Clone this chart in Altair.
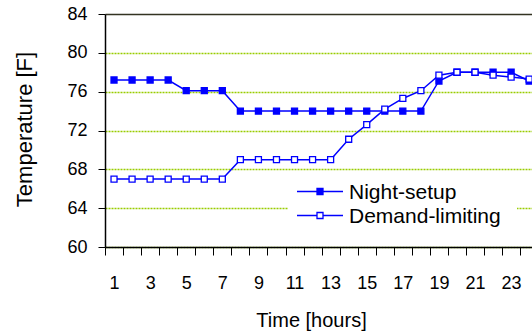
import altair as alt
import pandas as pd

# Hourly zone temperature for two control strategies
hours = list(range(1, 25))
night_setup = [77.2, 77.2, 77.2, 77.2, 76.1, 76.1, 76.1, 74.0, 74.0, 74.0, 74.0, 74.0,
               74.0, 74.0, 74.0, 74.0, 74.0, 74.0, 77.1, 78.0, 78.0, 78.0, 78.0, 77.1]
demand_limiting = [67.0, 67.0, 67.0, 67.0, 67.0, 67.0, 67.0, 69.0, 69.0, 69.0, 69.0, 69.0,
                   69.0, 71.1, 72.6, 74.2, 75.3, 76.1, 77.7, 78.0, 78.0, 77.7, 77.5, 77.3]
series_names = ["Night-setup", "Demand-limiting"]
y_ticks = [60, 64, 68, 72, 76, 80, 84]

df = pd.DataFrame({
    "hour": hours + hours,
    "temp": night_setup + demand_limiting,
    "series": [series_names[0]] * len(hours) + [series_names[1]] * len(hours),
})

BLUE = "#0000ff"
GRID = "#99cc00"
FONT = "Liberation Sans"
PX_PER_HOUR = 18.05
PLOT_W = 427
PLOT_H = 233

x_enc = alt.X(
    "hour:Q",
    scale=alt.Scale(domain=[0.5, 0.5 + PLOT_W / PX_PER_HOUR], nice=False, zero=False),
    axis=alt.Axis(
        values=hours,
        tickOffset=-PX_PER_HOUR / 2,
        labelOffset=PX_PER_HOUR / 2,
        labelExpr="datum.value % 2 == 1 ? datum.label : ''",
        grid=False,
        tickSize=8,
        tickColor="black",
        tickWidth=1,
        domainColor="black",
        domainWidth=1.5,
        labelFontSize=18,
        labelPadding=19,
        labelColor="black",
        title="Time [hours]",
        titleFontSize=20,
        titleFontWeight="normal",
        titleColor="black",
        titleBaseline="middle",
        titleX=206,
        titleY=73,
    ),
)

y_enc = alt.Y(
    "temp:Q",
    scale=alt.Scale(domain=[60, 84], nice=False, zero=False),
    axis=alt.Axis(
        values=y_ticks,
        format="d",
        grid=True,
        gridColor={"condition": {"test": "datum.value === 84", "value": "#333322"}, "value": GRID},
        gridDash={"condition": {"test": "datum.value === 84", "value": []}, "value": [2, 1]},
        gridWidth=1.5,
        tickSize=7,
        tickColor="black",
        domainColor="black",
        domainWidth=1.5,
        labelFontSize=18,
        labelPadding=11,
        labelColor="black",
        title="Temperature [F]",
        titleFontSize=22,
        titleFontWeight="normal",
        titleColor="black",
        titleAngle=-90,
        titleAlign="center",
        titleBaseline="middle",
        titleX=-81,
        titleY=115,
    ),
)

fill_scale = alt.Scale(domain=series_names, range=[BLUE, "white"])

lines = alt.Chart(df).mark_line(color=BLUE, strokeWidth=1.5).encode(
    x=x_enc, y=y_enc, detail="series:N"
)
markers = alt.Chart(df).mark_square(size=36, stroke=BLUE, strokeWidth=1.3, opacity=1).encode(
    x=x_enc, y=y_enc, fill=alt.Fill("series:N", scale=fill_scale, legend=None)
)

# Legend box drawn inside the plot area
legend_layers = [
    alt.Chart(alt.Data(values=[{"series": "box"}])).mark_rect(fill="white").encode(
        x=alt.value(183), x2=alt.value(412), y=alt.value(166), y2=alt.value(214)
    )
]
for i, name in enumerate(series_names):
    src = alt.Data(values=[{"series": name}])
    row_y = 177.5 + 24 * i
    legend_layers.append(
        alt.Chart(src).mark_rule(color=BLUE, strokeWidth=1.5).encode(
            x=alt.value(192), x2=alt.value(238), y=alt.value(row_y)
        )
    )
    legend_layers.append(
        alt.Chart(src).mark_square(size=36, stroke=BLUE, strokeWidth=1.3, opacity=1).encode(
            x=alt.value(215), y=alt.value(row_y),
            fill=alt.Fill("series:N", scale=fill_scale, legend=None),
        )
    )
    legend_layers.append(
        alt.Chart(src).mark_text(align="left", baseline="middle", fontSize=21, font=FONT, color="black").encode(
            x=alt.value(244), y=alt.value(row_y + 1), text="series:N"
        )
    )

chart = alt.layer(lines, markers, *legend_layers).properties(
    width=PLOT_W,
    height=PLOT_H,
    padding={"left": 105, "top": 14, "right": 0, "bottom": 88},
    autosize=alt.AutoSizeParams(type="none"),
    background="white",
).configure_view(stroke=None).configure_axis(
    labelFont=FONT, titleFont=FONT
)

chart.save("out.html", embed_options={"renderer": "svg", "actions": False})
